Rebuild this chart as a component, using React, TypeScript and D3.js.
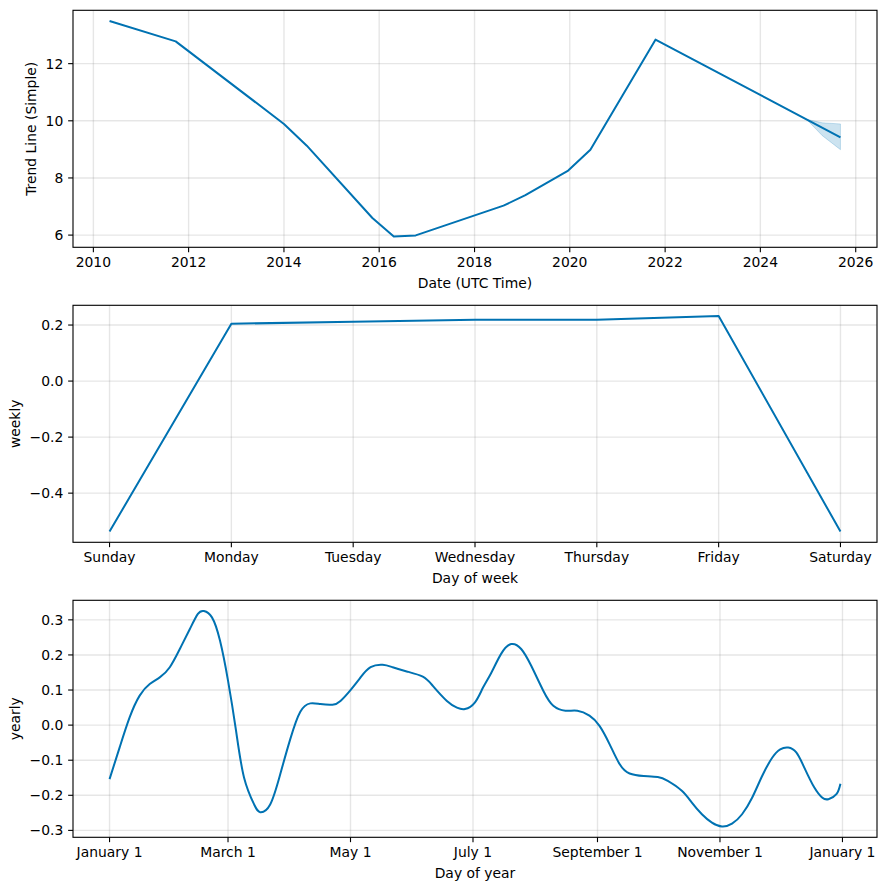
import React from "react";
import * as d3 from "d3";

// ---------- Trend panel data ----------
const trendDates = [
  "2010-05-05", "2011-09-24", "2014-01-01", "2014-06-25", "2015-11-10",
  "2016-04-22", "2016-10-07", "2018-08-11", "2019-01-26", "2019-12-20",
  "2020-06-07", "2021-10-19", "2025-09-06",
];
const trendValues = [13.49, 12.78, 9.89, 9.13, 6.6, 5.95, 5.99, 7.03, 7.4, 8.26, 8.99, 12.84, 9.42];
const bandDates = ["2024-12-20", "2025-04-20", "2025-09-06"];
const bandUpper = [10.05, 9.93, 9.89];
const bandLower = [10.05, 9.48, 8.99];
const trendTickYears = [2010, 2012, 2014, 2016, 2018, 2020, 2022, 2024, 2026];
const trendYTicks = [6, 8, 10, 12];

// ---------- Weekly panel data ----------
const weekDays = ["Sunday", "Monday", "Tuesday", "Wednesday", "Thursday", "Friday", "Saturday"];
const weeklyValues = [-0.537, 0.2046, 0.2118, 0.2189, 0.219, 0.232, -0.537];
const weeklyYTicks = [-0.4, -0.2, 0.0, 0.2];

// ---------- Yearly panel data ----------
const yearDays = [
  0, 5, 10, 15, 20, 25, 30, 35, 40, 44, 47, 51, 55, 59, 63, 67, 72, 75, 80, 85,
  90, 95, 100, 105, 111, 115, 120, 125, 130, 136, 141, 148, 156, 161, 168, 173, 177, 182, 186, 190,
  195, 200, 205, 210, 216, 221, 227, 233, 239, 244, 249, 254, 259, 266, 273, 278, 285, 290, 295, 300,
  305, 310, 315, 320, 325, 330, 334, 338, 342, 346, 351, 355, 358, 362, 364,
];
const yearlyValues = [
  -0.154, -0.064, 0.022, 0.084, 0.117, 0.136, 0.165, 0.217, 0.274, 0.317, 0.325, 0.307, 0.241, 0.127, -0.016, -0.15, -0.226, -0.248, -0.226, -0.14,
  -0.04, 0.038, 0.062, 0.06, 0.058, 0.069, 0.1, 0.136, 0.165, 0.172, 0.165, 0.153, 0.138, 0.112, 0.069, 0.05, 0.046, 0.065, 0.107, 0.148,
  0.203, 0.231, 0.217, 0.169, 0.098, 0.055, 0.041, 0.041, 0.027, -0.002, -0.054, -0.111, -0.138, -0.145, -0.148, -0.159, -0.187, -0.221, -0.254, -0.278,
  -0.289, -0.281, -0.254, -0.207, -0.145, -0.093, -0.069, -0.064, -0.078, -0.121, -0.178, -0.207, -0.211, -0.197, -0.167,
];
const yearTickDays = [0, 59, 120, 181, 243, 304, 365];
const yearTickLabels = ["January 1", "March 1", "May 1", "July 1", "September 1", "November 1", "January 1"];
const yearlyYTicks = [-0.3, -0.2, -0.1, 0.0, 0.1, 0.2, 0.3];

// ---------- Layout ----------
const W = 886;
const H = 890;
const LEFT = 73;
const RIGHT = 877;
const PANEL_H = 237;
const TOPS = [10.3, 305.3, 600.3];
const FONT = "'DejaVu Sans', sans-serif";
const FS = 13.9;
const BLUE = "#0072B2";
const TICK = 4.86;

const parse = d3.timeParse("%Y-%m-%d");

function pad(ext: [number, number]): [number, number] {
  const s = ext[1] - ext[0];
  return [ext[0] - 0.05 * s, ext[1] + 0.05 * s];
}

const fmtMinus = (s: string) => s.replace("-", "\u2212");

type Tick = { pos: number; label: string };

function Panel(props: {
  top: number;
  xTicks: Tick[];
  yTicks: Tick[];
  xLabel: string;
  yLabel: string;
  yLabelX: number;
  children: React.ReactNode;
}) {
  const { top, xTicks, yTicks, xLabel, yLabel, yLabelX, children } = props;
  const bottom = top + PANEL_H;
  const grid = "rgba(128,128,128,0.2)";
  return (
    <g>
      {xTicks.map((t, i) => (
        <line key={"gx" + i} x1={t.pos} x2={t.pos} y1={top} y2={bottom} stroke={grid} strokeWidth={1.39} />
      ))}
      {yTicks.map((t, i) => (
        <line key={"gy" + i} x1={LEFT} x2={RIGHT} y1={t.pos} y2={t.pos} stroke={grid} strokeWidth={1.39} />
      ))}
      <defs>
        <clipPath id={"clip" + Math.round(top)}>
          <rect x={LEFT} y={top} width={RIGHT - LEFT} height={PANEL_H} />
        </clipPath>
      </defs>
      <g clipPath={`url(#clip${Math.round(top)})`}>{children}</g>
      {xTicks.map((t, i) => (
        <g key={"tx" + i}>
          <line x1={t.pos} x2={t.pos} y1={bottom} y2={bottom + TICK} stroke="#000" strokeWidth={1.11} />
          <text x={t.pos} y={bottom + 20} textAnchor="middle" fontFamily={FONT} fontSize={FS} fill="#000">
            {t.label}
          </text>
        </g>
      ))}
      {yTicks.map((t, i) => (
        <g key={"ty" + i}>
          <line x1={LEFT - TICK} x2={LEFT} y1={t.pos} y2={t.pos} stroke="#000" strokeWidth={1.11} />
          <text x={LEFT - 9.7} y={t.pos + 5} textAnchor="end" fontFamily={FONT} fontSize={FS} fill="#000">
            {t.label}
          </text>
        </g>
      ))}
      <text x={(LEFT + RIGHT) / 2} y={bottom + 41} textAnchor="middle" fontFamily={FONT} fontSize={FS} fill="#000">
        {xLabel}
      </text>
      <text
        transform={`translate(${yLabelX},${(top + bottom) / 2}) rotate(-90)`}
        textAnchor="middle"
        fontFamily={FONT}
        fontSize={FS}
        fill="#000"
      >
        {yLabel}
      </text>
      <rect x={LEFT} y={top} width={RIGHT - LEFT} height={PANEL_H} fill="none" stroke="#000" strokeWidth={1.11} />
    </g>
  );
}

export default function App() {
  const tDates = trendDates.map((d) => parse(d) as Date);
  const bDates = bandDates.map((d) => parse(d) as Date);
  const tExt = d3.extent(tDates.map((d) => d.getTime())) as [number, number];
  const tx = d3.scaleTime().domain(pad(tExt).map((v) => new Date(v))).range([LEFT, RIGHT]);
  const tyExt: [number, number] = [
    Math.min(d3.min(trendValues)!, d3.min(bandLower)!),
    Math.max(d3.max(trendValues)!, d3.max(bandUpper)!),
  ];
  const ty = d3.scaleLinear().domain(pad(tyExt)).range([TOPS[0] + PANEL_H, TOPS[0]]);
  const trendLine = d3
    .line<number>()
    .x((_, i) => tx(tDates[i]))
    .y((v) => ty(v))(trendValues);
  const bandArea = d3
    .area<number>()
    .x((_, i) => tx(bDates[i]))
    .y0((_, i) => ty(bandLower[i]))
    .y1((v) => ty(v))(bandUpper);

  const wx = d3.scaleLinear().domain(pad([0, weekDays.length - 1])).range([LEFT, RIGHT]);
  const wy = d3
    .scaleLinear()
    .domain(pad(d3.extent(weeklyValues) as [number, number]))
    .range([TOPS[1] + PANEL_H, TOPS[1]]);
  const weeklyLine = d3
    .line<number>()
    .x((_, i) => wx(i))
    .y((v) => wy(v))(weeklyValues);

  const yx = d3.scaleLinear().domain(pad(d3.extent(yearDays) as [number, number])).range([LEFT, RIGHT]);
  const yy = d3
    .scaleLinear()
    .domain(pad(d3.extent(yearlyValues) as [number, number]))
    .range([TOPS[2] + PANEL_H, TOPS[2]]);
  const yearlyLine = d3
    .line<number>()
    .x((_, i) => yx(yearDays[i]))
    .y((v) => yy(v))
    .curve(d3.curveNatural)(yearlyValues);

  const f1 = d3.format(".1f");

  return (
    <svg
      width={W}
      height={H}
      style={{ position: "absolute", left: 0, top: 0, background: "#fff" }}
      xmlns="http://www.w3.org/2000/svg"
    >
      <rect x={0} y={0} width={W} height={H} fill="#fff" />
      <Panel
        top={TOPS[0]}
        xTicks={trendTickYears.map((y) => ({ pos: tx(new Date(y, 0, 1)), label: String(y) }))}
        yTicks={trendYTicks.map((v) => ({ pos: ty(v), label: String(v) }))}
        xLabel="Date (UTC Time)"
        yLabel="Trend Line (Simple)"
        yLabelX={36}
      >
        <path d={bandArea || ""} fill={BLUE} fillOpacity={0.2} stroke={BLUE} strokeOpacity={0.2} strokeWidth={1} />
        <path d={trendLine || ""} fill="none" stroke={BLUE} strokeWidth={2} strokeLinejoin="round" />
      </Panel>
      <Panel
        top={TOPS[1]}
        xTicks={weekDays.map((d, i) => ({ pos: wx(i), label: d }))}
        yTicks={weeklyYTicks.map((v) => ({ pos: wy(v), label: fmtMinus(f1(v)) }))}
        xLabel="Day of week"
        yLabel="weekly"
        yLabelX={20}
      >
        <path d={weeklyLine || ""} fill="none" stroke={BLUE} strokeWidth={2} strokeLinejoin="round" />
      </Panel>
      <Panel
        top={TOPS[2]}
        xTicks={yearTickDays.map((d, i) => ({ pos: yx(d), label: yearTickLabels[i] }))}
        yTicks={yearlyYTicks.map((v) => ({ pos: yy(v), label: fmtMinus(f1(v)) }))}
        xLabel="Day of year"
        yLabel="yearly"
        yLabelX={20}
      >
        <path d={yearlyLine || ""} fill="none" stroke={BLUE} strokeWidth={2} strokeLinejoin="round" />
      </Panel>
    </svg>
  );
}
